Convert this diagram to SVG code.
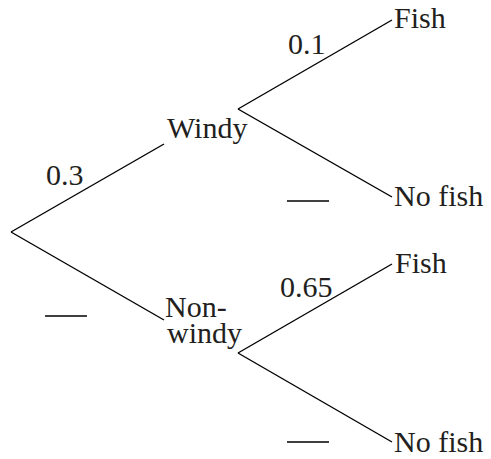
<svg xmlns="http://www.w3.org/2000/svg" width="491" height="459" viewBox="0 0 491 459">
<style>
text{font-family:"Liberation Serif","Times New Roman",serif;font-size:30px;fill:#231f20}
.e{stroke:#000;stroke-width:1.4;fill:none}
.d{stroke:#000;stroke-width:1.3}
</style>
<rect width="491" height="459" fill="#fff"/>
<g id="connectors">
<line class="e" x1="11" y1="232" x2="164" y2="144"/>
<line class="e" x1="11" y1="232" x2="164" y2="320"/>
<line class="e" x1="238" y1="109" x2="392" y2="20"/>
<line class="e" x1="238" y1="109" x2="392" y2="197"/>
<line class="e" x1="238" y1="353" x2="392" y2="264"/>
<line class="e" x1="238" y1="353" x2="392" y2="442"/>
</g>
<g id="labels">
<text x="46" y="185">0.3</text>
<line class="d" x1="45" y1="316" x2="87" y2="316"/>
<text x="288" y="54">0.1</text>
<line class="d" x1="287" y1="201" x2="329" y2="201"/>
<text x="280" y="297">0.65</text>
<line class="d" x1="287" y1="442" x2="329" y2="442"/>
</g>
<g id="windy"><text x="167" y="138">Windy</text></g>
<g id="nonwindy"><text x="165" y="317">Non-<tspan x="167" y="343">windy</tspan></text></g>
<g id="fish1"><text x="394" y="28">Fish</text></g>
<g id="nofish1"><text x="394" y="206">No fish</text></g>
<g id="fish2"><text x="395" y="273">Fish</text></g>
<g id="nofish2"><text x="394" y="452">No fish</text></g>
</svg>
